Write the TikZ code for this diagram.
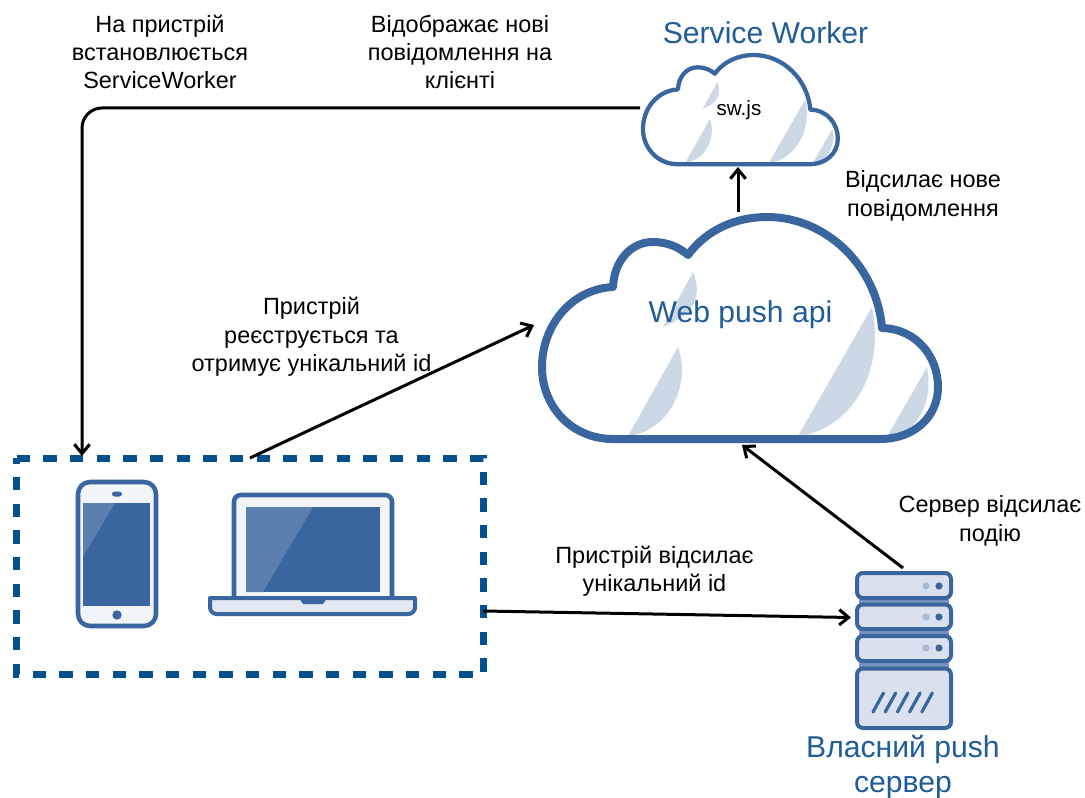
\documentclass[tikz,border=0pt]{standalone}
\usepackage{fontspec}
\setmainfont{Liberation Sans}
\usetikzlibrary{arrows.meta}
\definecolor{iconblue}{HTML}{3A66A0}
\definecolor{dashblue}{HTML}{05508F}
\definecolor{titleblue}{HTML}{1F5C99}
\definecolor{slice}{HTML}{CDD8E6}
\definecolor{pale}{HTML}{F1F4F9}
\definecolor{palebase}{HTML}{E2E8F2}
\definecolor{srv}{HTML}{D9E1EE}
\definecolor{band}{HTML}{7593BD}
\definecolor{hilite}{HTML}{5B7FAE}
\tikzset{
  conn/.style={draw=black,line width=2.25pt,-{Straight Barb[length=7pt,width=11.5pt,line width=2.3pt]}},
  lbl/.style={font=\fontsize{17.6}{21.3}\selectfont,align=center,text=black,inner sep=0pt},
  title/.style={font=\fontsize{22.6}{26.5}\selectfont,align=center,text=titleblue,inner sep=0pt},
  sliceshape/.style={fill=slice,draw=none},
  icon/.style={draw=iconblue,line width=3.4pt,line join=round},
  rackunit/.style={icon,line width=3pt,fill=srv,rounded corners=4.5pt},
  dotlight/.style={fill=iconblue!45!white,draw=none},
  dotdark/.style={fill=iconblue,draw=none},
  slash/.style={draw=iconblue,line width=2.4pt,line cap=round},
}
% cloud in local coordinates: origin at the top left of its bounding box
\newcommand{\cloudoutline}{%
      (71,222) .. controls (30,222) and (0,190) .. (0,150)
      .. controls (0,108) and (30,72) .. (71,70)
      .. controls (72,45) and (88,25) .. (111,25)
      .. controls (125,25) and (137,30) .. (146,38)
      .. controls (165,12) and (195,0) .. (225,0)
      .. controls (285,0) and (335,50) .. (340,111)
      .. controls (375,112) and (396,140) .. (396,170)
      .. controls (396,200) and (372,222) .. (338,222) -- cycle}
\newcommand{\cloudfig}[4]{%
  \begin{scope}[shift={(#2,#3)},scale=#1]
    \fill[white] \cloudoutline;
    \fill[sliceshape] (151,55) -- (121,110) .. controls (145,100) and (163,85) .. (151,55) -- cycle;
    \fill[sliceshape] (136,130) -- (86,219) .. controls (125,215) and (150,170) .. (136,130) -- cycle;
    \fill[sliceshape] (330,90) -- (256,219) .. controls (300,215) and (345,165) .. (330,90) -- cycle;
    \fill[sliceshape] (385,150) -- (345,220) .. controls (372,218) and (392,190) .. (385,150) -- cycle;
    \draw[iconblue,line width=#4,line join=round] \cloudoutline;
  \end{scope}}
\begin{document}
\begin{tikzpicture}[x=0.75pt,y=-0.75pt]
\useasboundingbox[fill=white] (0,0) rectangle (1085,798);
% clouds
\cloudfig{0.492}{643}{55}{3.2pt}
\cloudfig{1}{542}{217}{6pt}
% device box
\node[minimum width=350pt,minimum height=162pt,inner sep=0pt,outer sep=0pt] (devices) at (250,566.3) {};
\draw[draw=dashblue,line width=5pt,dash pattern=on 10pt off 10pt]
  (devices.north west) -- (devices.north east) -- (devices.south east) -- (devices.south west) -- cycle;
% phone
\draw[icon,fill=pale,rounded corners=9pt] (78,482) rectangle (156,626);
\fill[iconblue] (83,503) rectangle (150,606);
\fill[hilite] (83,503) -- (115,503) -- (83,557) -- cycle;
\fill[iconblue,rounded corners=2pt] (112,491.5) rectangle (122,496.5);
\fill[iconblue] (117,615) circle[radius=4.7];
% laptop
\draw[icon,fill=pale,rounded corners=5pt] (234,598) -- (234,495) -- (392,495) -- (392,598);
\fill[iconblue] (246,507) rectangle (380,592);
\fill[hilite] (246,507) -- (313,507) -- (263,592) -- (246,592) -- cycle;
\draw[icon,fill=palebase,line width=3pt] (210,598) [rounded corners=5pt] -- (210,614) -- (415,614) [sharp corners] -- (415,598) -- cycle;
\fill[iconblue] (299,598) -- (327,598) -- (323,604) -- (303,604) -- cycle;
% server
\fill[band] (859,590) rectangle (949,675);
\draw[rackunit] (857,573) rectangle (951,598);
\draw[rackunit] (857,604.5) rectangle (951,629);
\draw[rackunit] (857,636) rectangle (951,661);
\draw[rackunit] (857,668.5) rectangle (951,728);
\foreach \yy in {586,617,648}{
  \fill[dotlight] (926,\yy) circle[radius=3.6];
  \fill[dotdark] (939,\yy) circle[radius=3.6];
}
\foreach \xx in {0,12.2,24.4,36.6,48.8}{
  \draw[slash] (873+\xx,712) -- (883.5+\xx,693);
}
% connector ends
\coordinate (swleft) at (640,108);
\coordinate (swbottom) at (738,167);
\coordinate (apileft) at (534,325);
\coordinate (apibottom) at (742,445);
\coordinate (apitop) at (738,212);
\coordinate (srvtop) at (903,568);
\coordinate (srvleft) at (851,617.5);
\coordinate (boxtop) at (82,456);
\coordinate (boxtopb) at (250,458);
\coordinate (boxright) at (483,611);
\coordinate (bend) at (82,108);
% connectors
\draw[conn,rounded corners=15pt] (swleft) -- (bend) -- (boxtop);
\draw[conn] (apitop) -- (swbottom);
\draw[conn] (boxtopb) -- (apileft);
\draw[conn] (srvtop) -- (apibottom);
\draw[conn] (boxright) -- (srvleft);
% labels
\node[lbl] (l1) at (160,52) {На пристрій\\встановлюється\\ServiceWorker};
\node[lbl] (l2) at (460,52) {Відображає нові\\повідомлення на\\клієнті};
\node[lbl] (l3) at (923,196) {Відсилає нове\\повідомлення};
\node[lbl] (l4) at (311.5,337) {Пристрій\\реєструється та\\отримує унікальний id};
\node[lbl] (l5) at (654.5,571.5) {Пристрій відсилає\\унікальний id};
\node[lbl] (l6) at (990,521) {Сервер відсилає\\подію};
\node[lbl,font=\fontsize{15.5}{18}\selectfont] (sw) at (739,110) {sw.js};
\node[title] (t1) at (765.5,33) {Service Worker};
\node[title] (t2) at (740.5,315) {Web push api};
\node[title] (t3) at (903,767) {Власний push\\сервер};
\end{tikzpicture}
\end{document}
